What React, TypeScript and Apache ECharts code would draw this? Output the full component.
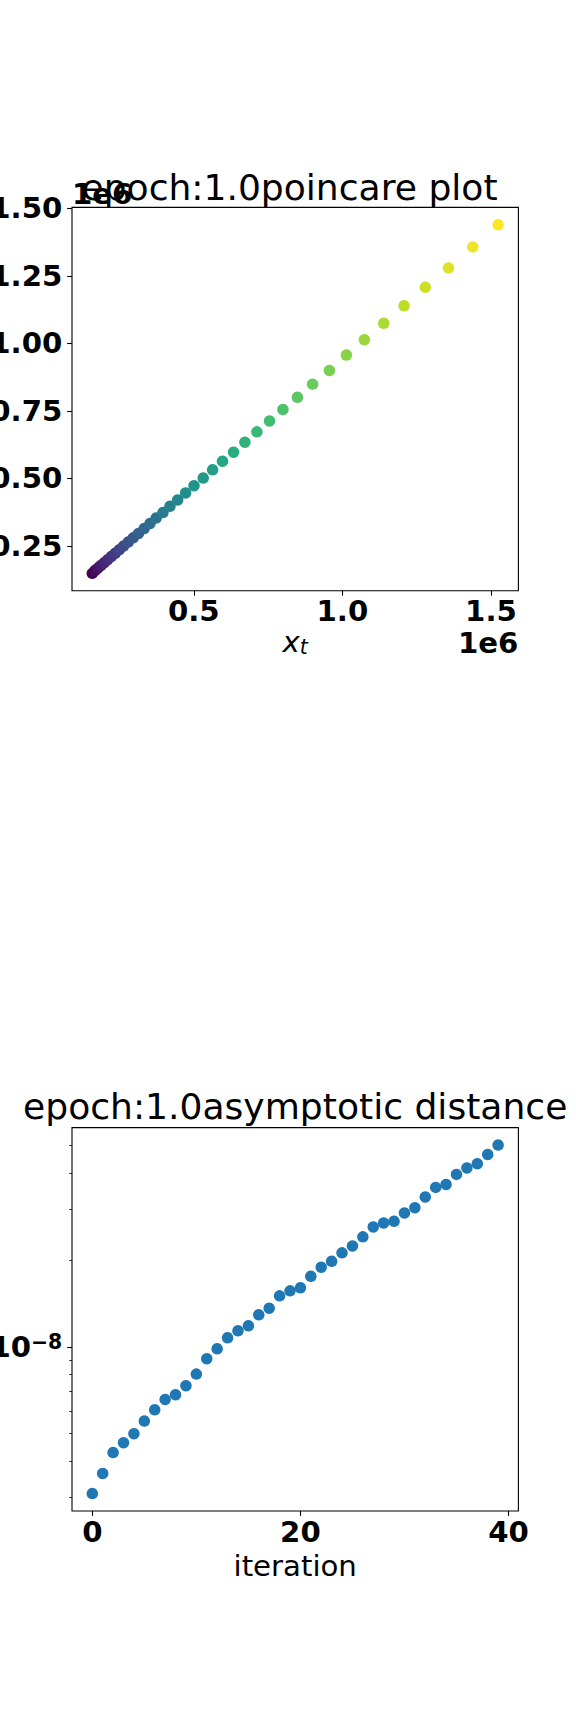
import React, { useEffect, useRef } from "react";
import * as echarts from "echarts";

// ---------- data ----------
// Poincare plot: x_t on the horizontal axis, previous value on the vertical axis
const xT = [
  158500, 167500, 177200, 187500, 198500, 210200, 222500, 235500, 249500, 264000,
  279500, 296000, 314000, 333000, 352800, 373300, 396300, 419800, 445800, 472500,
  500800, 531700, 563300, 596600, 633800, 672000, 712400, 754900, 800000, 848800,
  899600, 956500, 1013400, 1074000, 1139000, 1207500, 1279000, 1357000, 1438700, 1524000,
];
const xPrev = [
  148000, 158500, 167500, 177200, 187500, 198500, 210200, 222500, 235500, 249500,
  264000, 279500, 296000, 314000, 333000, 352800, 373300, 396300, 419800, 445800,
  472500, 500800, 531700, 563300, 596600, 633800, 672000, 712400, 754900, 800000,
  848800, 899600, 956500, 1013400, 1074000, 1139000, 1207500, 1279000, 1357000, 1438700,
];
const poincareXTicks = [500000, 1000000, 1500000];
const poincareYTicks = [250000, 500000, 750000, 1000000, 1250000, 1500000];

// Asymptotic distance per iteration (log scale)
const iterations = [
  0, 1, 2, 3, 4, 5, 6, 7, 8, 9, 10, 11, 12, 13, 14, 15, 16, 17, 18, 19,
  20, 21, 22, 23, 24, 25, 26, 27, 28, 29, 30, 31, 32, 33, 34, 35, 36, 37, 38, 39,
];
const asymptoticDistance = [
  3.10e-9, 3.64e-9, 4.30e-9, 4.65e-9, 5.00e-9, 5.53e-9, 6.05e-9, 6.57e-9, 6.82e-9, 7.33e-9,
  8.04e-9, 9.09e-9, 9.84e-9, 1.074e-8, 1.136e-8, 1.182e-8, 1.290e-8, 1.360e-8, 1.501e-8, 1.562e-8,
  1.600e-8, 1.755e-8, 1.886e-8, 1.978e-8, 2.115e-8, 2.236e-8, 2.403e-8, 2.602e-8, 2.686e-8, 2.720e-8,
  2.909e-8, 3.034e-8, 3.304e-8, 3.566e-8, 3.652e-8, 3.956e-8, 4.163e-8, 4.308e-8, 4.639e-8, 5.00e-8,
];
const iterTicks = [0, 20, 40];
const logMajorTicks = [1e-8];
const logMinorTicks = [3e-9, 4e-9, 5e-9, 6e-9, 7e-9, 8e-9, 9e-9, 2e-8, 3e-8, 4e-8, 5e-8];

const viridis = [
  "#440154", "#482475", "#414487", "#355f8d", "#2a788e", "#21918c",
  "#22a884", "#44bf70", "#7ad151", "#bddf26", "#fde725",
];

const FONT = "DejaVu Sans";
const TICK_FS = 29.2;
const SUB_FS = 20.4;
const DOT = 11.5;

function padded(arr: number[], frac = 0.05): [number, number] {
  const mn = Math.min(...arr);
  const mx = Math.max(...arr);
  const m = (mx - mn) * frac;
  return [mn - m, mx + m];
}

export default function App() {
  const ref = useRef<HTMLDivElement>(null);

  useEffect(() => {
    if (!ref.current) return;
    const chart = echarts.init(ref.current, null, { renderer: "svg" });

    const [x1min, x1max] = padded(xT);
    const [y1min, y1max] = padded(xPrev);
    const [x2min, x2max] = padded(iterations);
    const logs = asymptoticDistance.map((v) => Math.log10(v));
    const [l2min, l2max] = padded(logs);

    const tickLine = { color: "#000", width: 1.1 };
    const boldLabel = {
      fontFamily: FONT,
      fontWeight: "bold" as const,
      fontSize: TICK_FS,
      color: "#000",
    };
    const gridBase = {
      left: 72,
      width: 446.4,
      height: 383.4,
      show: true,
      borderColor: "#000",
      borderWidth: 1.1,
      backgroundColor: "transparent",
      containLabel: false,
      outerBoundsMode: "none",
    };

    const option: any = {
      animation: false,
      backgroundColor: "#fff",
      grid: [
        { ...gridBase, top: 207.4 },
        { ...gridBase, top: 1127.6 },
      ],
      xAxis: [
        {
          type: "value",
          gridIndex: 0,
          position: "bottom",
          min: x1min,
          max: x1max,
          axisLine: { show: false, onZero: false },
          axisTick: { show: true, customValues: poincareXTicks, length: 4.86, lineStyle: tickLine },
          axisLabel: {
            ...boldLabel,
            customValues: poincareXTicks,
            margin: 6,
            formatter: (v: number) => (v / 1e6).toFixed(1),
          },
          splitLine: { show: false },
          name: "{x|x}{t|t}",
          nameLocation: "middle",
          nameGap: 36,
          nameTextStyle: {
            fontFamily: FONT,
            fontSize: TICK_FS,
            color: "#000",
            rich: {
              x: { fontFamily: FONT, fontStyle: "italic", fontSize: TICK_FS, lineHeight: 30, color: "#000" },
              t: {
                fontFamily: FONT,
                fontStyle: "italic",
                fontSize: SUB_FS,
                lineHeight: 14,
                verticalAlign: "bottom",
                color: "#000",
              },
            },
          },
        },
        {
          type: "value",
          gridIndex: 1,
          position: "bottom",
          min: x2min,
          max: x2max,
          axisLine: { show: false, onZero: false },
          axisTick: { show: true, customValues: iterTicks, length: 4.86, lineStyle: tickLine },
          axisLabel: {
            ...boldLabel,
            customValues: iterTicks,
            margin: 6,
            formatter: (v: number) => String(Math.round(v)),
          },
          splitLine: { show: false },
          name: "iteration",
          nameLocation: "middle",
          nameGap: 39.5,
          nameTextStyle: { fontFamily: FONT, fontSize: TICK_FS, color: "#000", lineHeight: 30 },
        },
      ],
      yAxis: [
        {
          type: "value",
          gridIndex: 0,
          position: "left",
          min: y1min,
          max: y1max,
          axisLine: { show: false, onZero: false },
          axisTick: { show: true, customValues: poincareYTicks, length: 4.86, lineStyle: tickLine },
          axisLabel: {
            ...boldLabel,
            customValues: poincareYTicks,
            margin: 9.7,
            formatter: (v: number) => (v / 1e6).toFixed(2),
          },
          splitLine: { show: false },
        },
        {
          type: "log",
          gridIndex: 1,
          position: "left",
          min: Math.pow(10, l2min),
          max: Math.pow(10, l2max),
          axisLine: { show: false, onZero: false },
          axisTick: { show: false },
          axisLabel: { show: false },
          splitLine: { show: false },
          minorTick: { show: false },
          minorSplitLine: { show: false },
        },
        {
          type: "value",
          gridIndex: 1,
          position: "left",
          offset: 0,
          min: l2min,
          max: l2max,
          axisLine: { show: false, onZero: false },
          axisTick: {
            show: true,
            customValues: logMajorTicks.map((v) => Math.log10(v)),
            length: 4.86,
            lineStyle: tickLine,
          },
          axisLabel: {
            customValues: logMajorTicks.map((v) => Math.log10(v)),
            margin: 9.7,
            formatter: (v: number) => "{b|10}{s|\u2212" + Math.abs(Math.round(v)) + "}",
            rich: {
              b: { fontFamily: FONT, fontWeight: "bold", fontSize: TICK_FS, lineHeight: 30, color: "#000" },
              s: {
                fontFamily: FONT,
                fontWeight: "bold",
                fontSize: SUB_FS,
                lineHeight: 12,
                verticalAlign: "top",
                color: "#000",
              },
            },
          },
          splitLine: { show: false },
        },
        {
          type: "value",
          gridIndex: 1,
          position: "left",
          offset: 0,
          min: l2min,
          max: l2max,
          axisLine: { show: false, onZero: false },
          axisTick: {
            show: true,
            customValues: logMinorTicks.map((v) => Math.log10(v)),
            length: 2.8,
            lineStyle: { color: "#000", width: 0.8 },
          },
          axisLabel: { show: false },
          splitLine: { show: false },
        },
      ],
      visualMap: {
        type: "continuous",
        show: false,
        seriesIndex: 0,
        dimension: 2,
        min: 0,
        max: xT.length - 1,
        inRange: { color: viridis },
      },
      series: [
        {
          type: "scatter",
          xAxisIndex: 0,
          yAxisIndex: 0,
          symbolSize: DOT,
          itemStyle: { opacity: 1 },
          data: xT.map((x, i) => [x, xPrev[i], i]),
          emphasis: { disabled: true },
        },
        {
          type: "scatter",
          xAxisIndex: 1,
          yAxisIndex: 1,
          symbolSize: DOT,
          itemStyle: { color: "#1f77b4", opacity: 1 },
          data: iterations.map((it, i) => [it, asymptoticDistance[i]]),
          emphasis: { disabled: true },
        },
      ],
      graphic: [
        {
          type: "text",
          x: 289.5,
          y: 187.5,
          style: {
            text: "epoch:1.0poincare plot",
            font: '36.1px "DejaVu Sans"',
            fill: "#000",
            align: "center",
            verticalAlign: "middle",
            textAlign: "center",
            textVerticalAlign: "middle",
          },
        },
        {
          type: "text",
          x: 72,
          y: 193.5,
          style: {
            text: "1e6",
            font: 'bold 29.2px "DejaVu Sans"',
            fill: "#000",
            align: "left",
            verticalAlign: "middle",
            textAlign: "left",
            textVerticalAlign: "middle",
          },
        },
        {
          type: "text",
          x: 518.4,
          y: 643,
          style: {
            text: "1e6",
            font: 'bold 29.2px "DejaVu Sans"',
            fill: "#000",
            align: "right",
            verticalAlign: "middle",
            textAlign: "right",
            textVerticalAlign: "middle",
          },
        },
        {
          type: "text",
          x: 295.2,
          y: 1107,
          style: {
            text: "epoch:1.0asymptotic distance",
            font: '36.1px "DejaVu Sans"',
            fill: "#000",
            align: "center",
            verticalAlign: "middle",
            textAlign: "center",
            textVerticalAlign: "middle",
          },
        },
      ],
    };

    chart.setOption(option);
    return () => {
      chart.dispose();
    };
  }, []);

  return (
    <div
      ref={ref}
      style={{ position: "absolute", left: 0, top: 0, width: 576, height: 1728, background: "#fff" }}
    />
  );
}
